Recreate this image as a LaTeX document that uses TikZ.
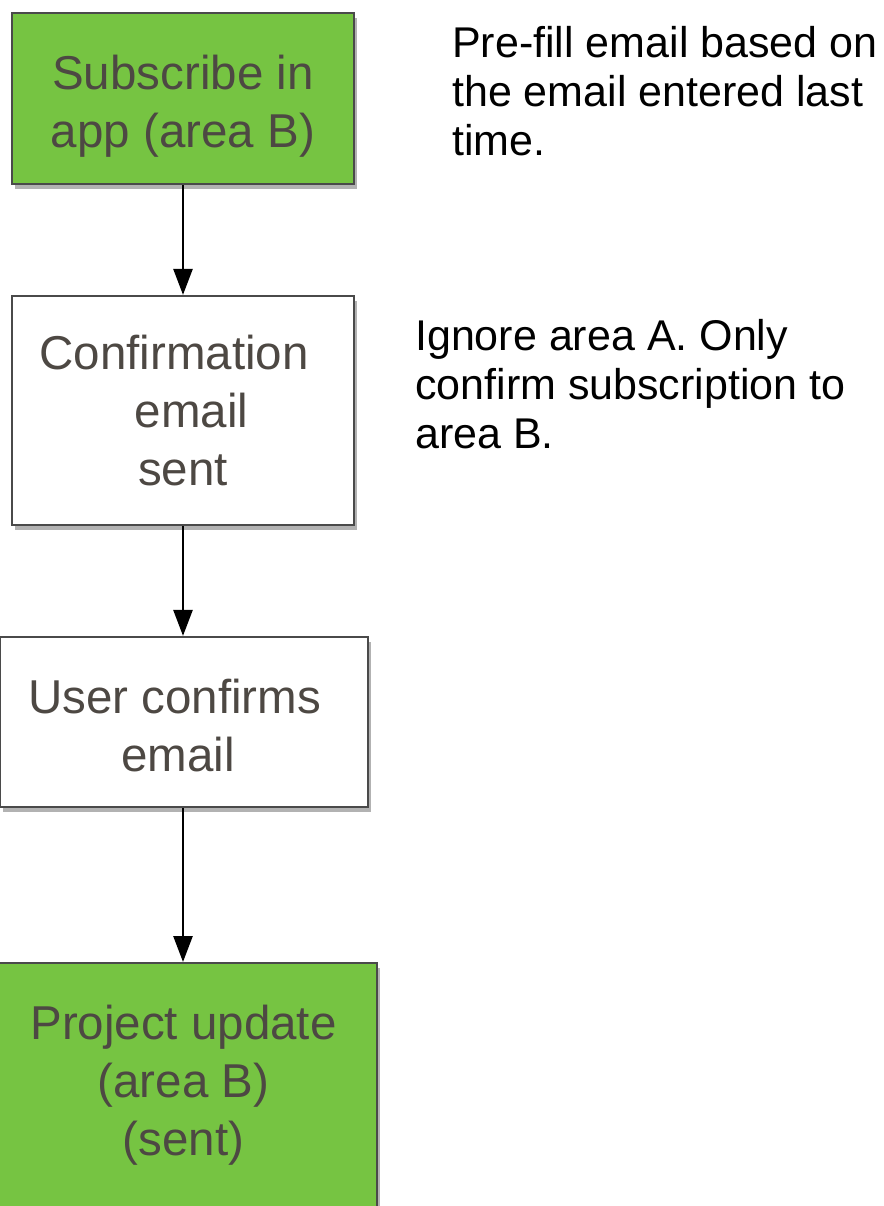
\documentclass[tikz,border=0pt]{standalone}
\usepackage{fontspec}
\setmainfont{Liberation Sans}
\usetikzlibrary{arrows.meta,shadows}
\definecolor{boxgreen}{HTML}{76C442}
\definecolor{boxline}{HTML}{4A4A4A}
\definecolor{boxtext}{HTML}{4D4843}
\tikzset{
  flowbox/.style={draw=boxline,line width=2.2pt,align=center,text=boxtext,inner sep=0pt,
    font=\fontsize{47.5pt}{58pt}\selectfont,
    drop shadow={shadow xshift=3pt,shadow yshift=-5pt,opacity=0.3,fill=black}},
  greenbox/.style={flowbox,fill=boxgreen},
  whitebox/.style={flowbox,fill=white},
  note/.style={align=left,inner sep=0pt,anchor=base west,font=\fontsize{43pt}{49pt}\selectfont},
  flow/.style={line width=2.6pt,-{Triangle[length=26pt,width=19pt]}}
}
\begin{document}
\begin{tikzpicture}[x=1pt,y=-1pt]
  \clip (0,0) rectangle (883,1206);
  \fill[white] (0,0) rectangle (883,1206);

  % boxes of the flow
  \node[greenbox,minimum width=342pt,minimum height=171pt,text height=107pt] (subscribe) at (183,98.5)
    {Subscribe in\\app (area B)};
  \node[whitebox,minimum width=342pt,minimum height=229pt] (mailsent) at (183,410.5)
    {\mbox{Confirmation\hspace*{18pt}}\\\mbox{\hspace*{17pt}email}\\sent};
  \node[whitebox,minimum width=368pt,minimum height=170pt,text height=99pt] (userok) at (184,722)
    {\mbox{User confirms\hspace*{19pt}}\\\mbox{email\hspace*{12pt}}};
  \node[greenbox,minimum width=387pt,minimum height=300pt,text depth=65pt,anchor=north] (update) at (183.5,962)
    {Project update\\(area B)\\(sent)};

  % notes (anchored at the last line)
  \node[note] (prefill) at (452,156) {Pre-fill email based on\\the email entered last\\time.};
  \node[note] (ignore) at (415,448) {Ignore area A. Only\\confirm subscription to\\area B.};

  % arrows
  \draw[flow] (subscribe.south) -- (mailsent.north);
  \draw[flow] (mailsent.south) -- (mailsent.south |- userok.north);
  \draw[flow] (mailsent.south |- userok.south) -- (mailsent.south |- update.north);
\end{tikzpicture}
\end{document}
